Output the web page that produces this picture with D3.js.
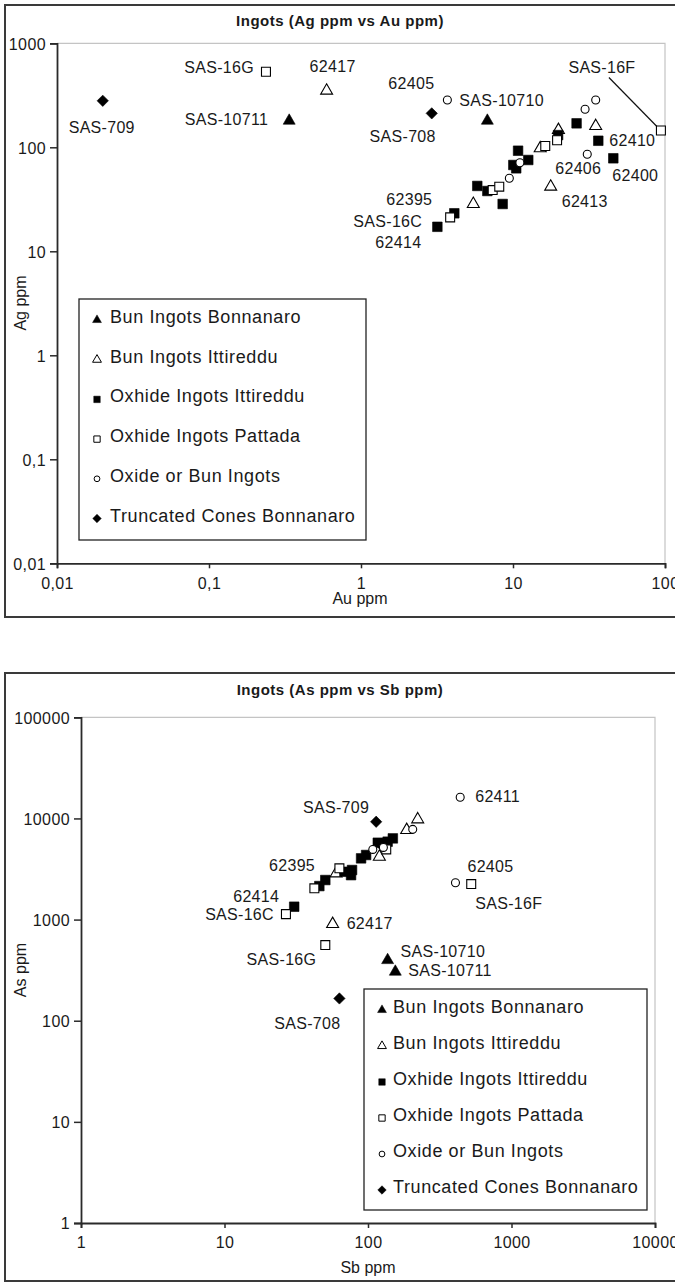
<!DOCTYPE html>
<html>
<head>
<meta charset="utf-8">
<script src="https://cdn.jsdelivr.net/npm/d3@7"></script>
<style>
  html, body { margin: 0; padding: 0; background: #fff; }
  svg { display: block; }
  text { font-family: Arial, "Liberation Sans", sans-serif; fill: #1a1a1a; }
</style>
</head>
<body>
<svg id="fig" width="675" height="1284"></svg>
<script>
// ---------- Ingots: Ag ppm vs Au ppm ----------
// [Au ppm, Ag ppm, sample label]
const agAuBunBonnanaro = [[0.337, 180, "SAS-10711"], [6.78, 180, "SAS-10710"]];
const agAuBunIttireddu = [[0.594, 350, "62417"], [5.48, 28.5, "62395"], [17.7, 41.8, "62413"],
  [15.1, 97.7], [19.9, 146.6], [35.0, 160]];
const agAuOxhideIttireddu = [[3.18, 17.2, "62414"], [4.11, 23.2], [5.82, 42.5], [6.78, 38.0],
  [8.55, 28.5], [10.05, 67.6], [10.5, 62.8], [10.8, 92.7], [12.6, 75.5], [19.8, 131],
  [26.2, 170], [36.4, 115.6, "62410"], [45.7, 78.4, "62400"]];
const agAuOxhidePattada = [[0.237, 533, "SAS-16G"], [3.86, 21.2, "SAS-16C"], [7.35, 38.8],
  [8.12, 41.8], [16.3, 103], [19.5, 117], [94, 145, "SAS-16F"]];
const agAuOxideOrBun = [[3.70, 285, "62405"], [9.46, 50.4], [11.1, 71], [30.8, 85.7, "62406"],
  [29.8, 232], [35.0, 285]];
const agAuTruncatedCones = [[0.02, 280, "SAS-709"], [2.92, 212, "SAS-708"]];
const agAuXTicks = [0.01, 0.1, 1, 10, 100];
const agAuXTickLabels = ["0,01", "0,1", "1", "10", "100"];
const agAuYTicks = [0.01, 0.1, 1, 10, 100, 1000];
const agAuYTickLabels = ["0,01", "0,1", "1", "10", "100", "1000"];

// ---------- Ingots: As ppm vs Sb ppm ----------
// [Sb ppm, As ppm, sample label]
const asSbBunBonnanaro = [[137, 397, "SAS-10710"], [155, 305, "SAS-10711"]];
const asSbBunIttireddu = [[56.7, 904, "62417"], [59.9, 2860, "62395"], [120, 4180],
  [186, 7680], [222, 9790]];
const asSbOxhideIttireddu = [[30.6, 1340, "62414"], [45.8, 2144], [50.4, 2460], [68.5, 2970],
  [76.2, 2750], [77.4, 3090], [89.5, 4030], [97, 4350], [117, 5750], [127, 5680],
  [137, 5890], [149, 6350]];
const asSbOxhidePattada = [[26.8, 1132, "SAS-16C"], [42.3, 2036], [63.2, 3210], [134, 4940],
  [50.4, 560, "SAS-16G"], [524, 2244, "SAS-16F"]];
const asSbOxideOrBun = [[439, 16180, "62411"], [407, 2312, "62405"], [205, 7800],
  [108, 4940], [128, 5170]];
const asSbTruncatedCones = [[114, 9270, "SAS-709"], [63.2, 166, "SAS-708"]];
const asSbXTicks = [1, 10, 100, 1000, 10000];
const asSbXTickLabels = ["1", "10", "100", "1000", "10000"];
const asSbYTicks = [1, 10, 100, 1000, 10000, 100000];
const asSbYTickLabels = ["1", "10", "100", "1000", "10000", "100000"];

const seriesNames = ["Bun Ingots Bonnanaro", "Bun Ingots Ittireddu", "Oxhide Ingots Ittireddu",
  "Oxhide Ingots Pattada", "Oxide or Bun Ingots", "Truncated Cones Bonnanaro"];

// ---------- marker styles ----------
const diamondType = {
  draw(ctx, size) {
    const r = Math.sqrt(size / 2);
    ctx.moveTo(0, -r); ctx.lineTo(r, 0); ctx.lineTo(0, r); ctx.lineTo(-r, 0); ctx.closePath();
  }
};
const seriesStyle = [
  { type: d3.symbolTriangle, filled: true, size: 62, legendSize: 34 },
  { type: d3.symbolTriangle, filled: false, size: 62, legendSize: 34 },
  { type: d3.symbolSquare, filled: true, size: 92, legendSize: 42 },
  { type: d3.symbolSquare, filled: false, size: 80, legendSize: 40 },
  { type: d3.symbolCircle, filled: false, size: 50, legendSize: 26 },
  { type: diamondType, filled: true, size: 64, legendSize: 36 }
];

// label placement: [anchor, dx, dy] relative to the marker
const agAuLabelPlace = {
  "SAS-709": ["middle", -1, 32], "SAS-16G": ["end", -12, 1], "62417": ["middle", 6, -19],
  "SAS-10711": ["end", -21, 4], "62405": ["end", -13, -11], "SAS-10710": ["start", -28, -15],
  "SAS-708": ["end", 4, 29], "SAS-16F": ["middle", -59, -58], "62410": ["start", 11, 5],
  "62406": ["middle", -9, 20], "62400": ["start", -1, 23], "62395": ["end", -41, 1],
  "62413": ["start", 11, 20], "SAS-16C": ["end", -28, 10], "62414": ["end", -16, 21]
};
const asSbLabelPlace = {
  "SAS-709": ["end", -7, -9], "62395": ["end", -21, -2], "62414": ["end", -15, -5],
  "SAS-16C": ["end", -12, 6], "62417": ["start", 14, 5], "SAS-16G": ["end", -9, 20],
  "SAS-10710": ["start", 13, -3], "SAS-10711": ["start", 13, 4], "SAS-708": ["end", 1, 31],
  "62411": ["start", 15, 5], "62405": ["start", 12, -11], "SAS-16F": ["start", 4, 25]
};

const svg = d3.select("#fig");

function drawChart(cfg) {
  const g = svg.append("g");
  // outer frame
  g.append("rect").attr("x", cfg.frame[0]).attr("y", cfg.frame[1])
    .attr("width", cfg.frame[2]).attr("height", cfg.frame[3])
    .attr("fill", "#fff").attr("stroke", "#3a3a3a").attr("stroke-width", 2);

  const x = d3.scaleLog().domain(cfg.xDomain).range([cfg.plot.left, cfg.plot.right]);
  const y = d3.scaleLog().domain(cfg.yDomain).range([cfg.plot.bottom, cfg.plot.top]);

  // plot area border (top / right)
  g.append("path")
    .attr("d", `M${cfg.plot.left},${cfg.plot.top}H${cfg.plot.right}V${cfg.plot.bottom}`)
    .attr("fill", "none").attr("stroke", "#c4c4c4").attr("stroke-width", 1.2);

  // axes
  const xAxis = d3.axisBottom(x).tickValues(cfg.xTicks)
    .tickFormat((d, i) => cfg.xTickLabels[i]).tickSize(5).tickPadding(9);
  const yAxis = d3.axisLeft(y).tickValues(cfg.yTicks)
    .tickFormat((d, i) => cfg.yTickLabels[i]).tickSize(7).tickPadding(4);
  const gx = g.append("g").attr("transform", `translate(0,${cfg.plot.bottom})`).call(xAxis);
  const gy = g.append("g").attr("transform", `translate(${cfg.plot.left},0)`).call(yAxis);
  [gx, gy].forEach(a => {
    a.select(".domain").attr("stroke", "#2a2a2a").attr("stroke-width", 1.8);
    a.selectAll(".tick line").attr("stroke", "#2a2a2a").attr("stroke-width", 1.5);
    a.selectAll(".tick text").attr("font-size", 16).attr("fill", "#1a1a1a")
      .attr("font-family", "Arial, 'Liberation Sans', sans-serif")
      .style("letter-spacing", "0.4px");
  });
  gy.selectAll(".tick text").attr("dy", "0.36em");

  // titles
  g.append("text").attr("x", cfg.titlePos[0]).attr("y", cfg.titlePos[1])
    .attr("text-anchor", "middle").attr("font-size", 15).attr("font-weight", "bold")
    .style("letter-spacing", "0.5px").text(cfg.title);
  g.append("text").attr("x", cfg.xTitlePos[0]).attr("y", cfg.xTitlePos[1])
    .attr("text-anchor", "middle").attr("font-size", 16).text(cfg.xTitle);
  g.append("text")
    .attr("transform", `translate(${cfg.yTitlePos[0]},${cfg.yTitlePos[1]}) rotate(-90)`)
    .attr("text-anchor", "middle").attr("font-size", 16).text(cfg.yTitle);

  // leader line
  if (cfg.leader) {
    const p = cfg.leader.point;
    g.append("line")
      .attr("x1", x(p[0]) + cfg.leader.from[0]).attr("y1", y(p[1]) + cfg.leader.from[1])
      .attr("x2", x(p[0]) + cfg.leader.to[0]).attr("y2", y(p[1]) + cfg.leader.to[1])
      .attr("stroke", "#111").attr("stroke-width", 1.2);
  }

  // markers, drawn series by series
  cfg.series.forEach((data, si) => {
    const st = seriesStyle[si];
    g.append("g").selectAll("path").data(data).join("path")
      .attr("transform", d => `translate(${x(d[0])},${y(d[1])})`)
      .attr("d", d3.symbol().type(st.type).size(st.size))
      .attr("fill", st.filled ? "#000" : "#fff")
      .attr("stroke", "#000").attr("stroke-width", st.filled ? 0.6 : 1.1);
  });

  // sample labels
  cfg.series.flat().filter(d => d[2]).forEach(d => {
    const pl = cfg.labelPlace[d[2]];
    g.append("text").attr("x", x(d[0]) + pl[1]).attr("y", y(d[1]) + pl[2])
      .attr("text-anchor", pl[0]).attr("font-size", 16)
      .style("letter-spacing", "0.3px").text(d[2]);
  });

  // legend
  const L = cfg.legend;
  g.append("rect").attr("x", L.x).attr("y", L.y).attr("width", L.w).attr("height", L.h)
    .attr("fill", "#fff").attr("stroke", "#222").attr("stroke-width", 1.3);
  seriesNames.forEach((name, i) => {
    const st = seriesStyle[i];
    const by = L.firstBaseline + i * L.step;
    g.append("path").attr("transform", `translate(${L.markerX},${by - 3})`)
      .attr("d", d3.symbol().type(st.type).size(st.legendSize))
      .attr("fill", st.filled ? "#000" : "#fff")
      .attr("stroke", "#000").attr("stroke-width", st.filled ? 0.5 : 1);
    g.append("text").attr("x", L.textX).attr("y", by).attr("font-size", 18)
      .style("letter-spacing", "0.6px").text(name);
  });
}

drawChart({
  frame: [5, 5, 690, 612],
  plot: { left: 57, right: 665, top: 43.3, bottom: 563.3 },
  xDomain: [0.01, 100], yDomain: [0.01, 1000],
  xTicks: agAuXTicks, xTickLabels: agAuXTickLabels,
  yTicks: agAuYTicks, yTickLabels: agAuYTickLabels,
  title: "Ingots (Ag ppm vs Au ppm)", titlePos: [340, 26],
  xTitle: "Au ppm", xTitlePos: [360, 604],
  yTitle: "Ag ppm", yTitlePos: [26, 303],
  series: [agAuBunBonnanaro, agAuBunIttireddu, agAuOxhideIttireddu,
    agAuOxhidePattada, agAuOxideOrBun, agAuTruncatedCones],
  labelPlace: agAuLabelPlace,
  leader: { point: agAuOxhidePattada[6], from: [-52, -53], to: [-4, -4] },
  legend: { x: 79, y: 299, w: 287, h: 241, firstBaseline: 323, step: 39.7, markerX: 97, textX: 110 }
});

drawChart({
  frame: [5, 673, 690, 608],
  plot: { left: 81, right: 655, top: 717.3, bottom: 1223 },
  xDomain: [1, 10000], yDomain: [1, 100000],
  xTicks: asSbXTicks, xTickLabels: asSbXTickLabels,
  yTicks: asSbYTicks, yTickLabels: asSbYTickLabels,
  title: "Ingots (As ppm vs Sb ppm)", titlePos: [340, 695],
  xTitle: "Sb ppm", xTitlePos: [368, 1273],
  yTitle: "As ppm", yTitlePos: [26, 970],
  series: [asSbBunBonnanaro, asSbBunIttireddu, asSbOxhideIttireddu,
    asSbOxhidePattada, asSbOxideOrBun, asSbTruncatedCones],
  labelPlace: asSbLabelPlace,
  leader: null,
  legend: { x: 364, y: 989, w: 283, h: 221, firstBaseline: 1013, step: 36, markerX: 382, textX: 393 }
});
</script>
</body>
</html>
